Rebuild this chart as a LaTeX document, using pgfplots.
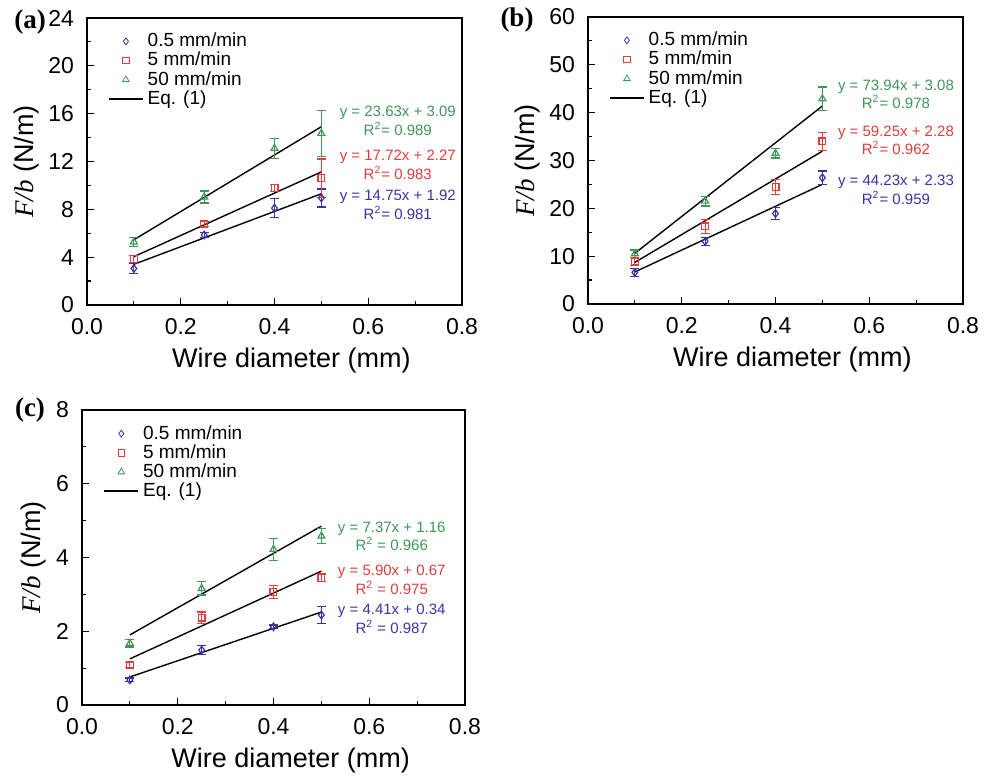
\documentclass[border=0pt]{standalone}
\usepackage{pgfplots}
\pgfplotsset{compat=1.18}
\usepackage{fontspec}
\setmainfont{Liberation Sans}
\newfontfamily\tnr{Liberation Serif}
\definecolor{cb}{RGB}{60,50,165}
\definecolor{cr}{RGB}{228,60,60}
\definecolor{cg}{RGB}{65,150,90}
\tikzset{eqn/.style={align=center, font=\fontsize{7.5}{8}\selectfont}}
\pgfplotsset{
  panel/.style={
    scale only axis, width=187.5pt, height=143.5pt,
    xmin=0, xmax=0.8, xtick={0,0.2,0.4,0.6,0.8}, minor x tick num=1, minor y tick num=1,
    xticklabel style={/pgf/number format/fixed, /pgf/number format/fixed zerofill, /pgf/number format/precision=1, yshift=-3pt},
    yticklabel style={xshift=-3pt},
    /pgf/number format/assume math mode=true,
    tick align=inside, xtick pos=left, ytick pos=left,
    major tick length=3.5pt, minor tick length=2pt,
    tick style={black, line width=0.6pt},
    axis line style={line width=0.7pt},
    tick label style={font=\fontsize{11.5}{13}\selectfont},
    label style={font=\fontsize{13.5}{15}\selectfont},
    xlabel={Wire diameter (mm)},
    ylabel={{\tnr\itshape F/b} (N/m)},
    xlabel style={at={(axis description cs:0.545,0)}, anchor=north, yshift=-18pt},
    ylabel style={yshift=-2pt},
    legend style={draw=none, fill=none, at={(0.05,0.97)}, anchor=north west,
      font=\fontsize{9.5}{10.5}\selectfont, row sep=-2.8pt, inner sep=1pt},
    legend cell align=left,
  },
  bl/.style={only marks, color=cb, mark=diamond, mark size=1.9pt, forget plot, mark options={line width=0.6pt},
    error bars/y dir=both, error bars/y explicit,
    error bars/error bar style={cb, line width=0.6pt},
    error bars/error mark options={rotate=90, mark size=2.3pt, cb, line width=0.6pt}},
  rd/.style={only marks, color=cr, mark=square, mark size=1.7pt, forget plot, mark options={line width=0.6pt},
    error bars/y dir=both, error bars/y explicit,
    error bars/error bar style={cr, line width=0.6pt},
    error bars/error mark options={rotate=90, mark size=2.3pt, cr, line width=0.6pt}},
  gr/.style={only marks, color=cg, mark=triangle, mark size=2.0pt, forget plot, mark options={line width=0.6pt},
    error bars/y dir=both, error bars/y explicit,
    error bars/error bar style={cg, line width=0.6pt},
    error bars/error mark options={rotate=90, mark size=2.3pt, cg, line width=0.6pt}},
  fitl/.style={black, line width=0.7pt, forget plot},
  lb/.style={only marks, color=cb, mark=diamond, mark size=1.7pt, mark options={draw=cb}},
  lr/.style={only marks, color=cr, mark=square, mark size=1.6pt, mark options={draw=cr}},
  lg/.style={only marks, color=cg, mark=triangle, mark size=1.9pt, mark options={draw=cg}},
}
\begin{document}
\begin{tikzpicture}
\path[use as bounding box] (0,0) rectangle (499pt,389.5pt);
% ---------------- (a)
\begin{axis}[panel, at={(43.5pt,237pt)}, anchor=south west,
  ymin=0, ymax=24, ytick={0,4,...,24}]
\addlegendimage{lb}\addlegendentry{0.5 mm/min}
\addlegendimage{lr}\addlegendentry{5 mm/min}
\addlegendimage{lg}\addlegendentry{50 mm/min}
\addlegendimage{black, line width=0.7pt}\addlegendentry{Eq. (1)}
\addplot[fitl] coordinates {(0.1,3.40) (0.5,9.30)};
\addplot[fitl] coordinates {(0.1,4.04) (0.5,11.13)};
\addplot[fitl] coordinates {(0.1,5.45) (0.5,14.91)};
\addplot[bl] coordinates {(0.1,3.05) +- (0,0.45) (0.25,5.85) +- (0,0.2) (0.4,8.1) +- (0,0.8) (0.5,8.95) +- (0,0.75)};
\addplot[rd] coordinates {(0.1,3.85) +- (0,0.3) (0.25,6.77) +- (0,0.2) (0.4,9.78) +- (0,0.3) (0.5,10.6) +- (0,1.6)};
\addplot[gr] coordinates {(0.1,5.27) +- (0,0.4) (0.25,9.03) +- (0,0.5) (0.4,13.1) +- (0,0.85) (0.5,14.35) +- (0,1.9)};
\node[eqn, cg] at (axis cs:0.663,15.4) {y = 23.63x + 3.09\\R\textsuperscript{2}= 0.989};
\node[eqn, cr] at (axis cs:0.663,11.7) {y = 17.72x + 2.27\\R\textsuperscript{2}= 0.983};
\node[eqn, cb] at (axis cs:0.663,8.36) {y = 14.75x + 1.92\\R\textsuperscript{2}= 0.981};
\end{axis}
% ---------------- (b)
\begin{axis}[panel, at={(294pt,237.5pt)}, anchor=south west,
  ymin=0, ymax=60, ytick={0,10,...,60}]
\addlegendimage{lb}\addlegendentry{0.5 mm/min}
\addlegendimage{lr}\addlegendentry{5 mm/min}
\addlegendimage{lg}\addlegendentry{50 mm/min}
\addlegendimage{black, line width=0.7pt}\addlegendentry{Eq. (1)}
\addplot[fitl] coordinates {(0.1,6.7) (0.5,25.0)};
\addplot[fitl] coordinates {(0.1,8.7) (0.5,31.95)};
\addplot[fitl] coordinates {(0.1,10.6) (0.5,41.4)};
\addplot[bl] coordinates {(0.1,6.6) +- (0,0.8) (0.25,13.1) +- (0,0.8) (0.4,18.9) +- (0,1.3) (0.5,26.4) +- (0,1.4)};
\addplot[rd] coordinates {(0.1,8.9) +- (0,0.8) (0.25,16.2) +- (0,1.4) (0.4,24.5) +- (0,1.6) (0.5,34.0) +- (0,1.9)};
\addplot[gr] coordinates {(0.1,10.5) +- (0,0.8) (0.25,21.5) +- (0,1.0) (0.4,31.5) +- (0,1.0) (0.5,42.9) +- (0,2.45)};
\node[eqn, cg] at (axis cs:0.657,43.8) {y = 73.94x + 3.08\\R\textsuperscript{2}= 0.978};
\node[eqn, cr] at (axis cs:0.657,34.2) {y = 59.25x + 2.28\\R\textsuperscript{2}= 0.962};
\node[eqn, cb] at (axis cs:0.657,23.9) {y = 44.23x + 2.33\\R\textsuperscript{2}= 0.959};
\end{axis}
% ---------------- (c)
\begin{axis}[panel, at={(41pt,37pt)}, anchor=south west, width=191.5pt, height=147.5pt,
  ymin=0, ymax=8, ytick={0,2,...,8}]
\addlegendimage{lb}\addlegendentry{0.5 mm/min}
\addlegendimage{lr}\addlegendentry{5 mm/min}
\addlegendimage{lg}\addlegendentry{50 mm/min}
\addlegendimage{black, line width=0.7pt}\addlegendentry{Eq. (1)}
\addplot[fitl] coordinates {(0.1,0.76) (0.5,2.52)};
\addplot[fitl] coordinates {(0.1,1.25) (0.5,3.63)};
\addplot[fitl] coordinates {(0.1,1.9) (0.5,4.85)};
\addplot[bl] coordinates {(0.1,0.68) +- (0,0.05) (0.25,1.49) +- (0,0.13) (0.4,2.12) +- (0,0.05) (0.5,2.44) +- (0,0.23)};
\addplot[rd] coordinates {(0.1,1.08) +- (0,0.07) (0.25,2.37) +- (0,0.15) (0.4,3.07) +- (0,0.18) (0.5,3.45) +- (0,0.1)};
\addplot[gr] coordinates {(0.1,1.67) +- (0,0.1) (0.25,3.16) +- (0,0.18) (0.4,4.22) +- (0,0.3) (0.5,4.58) +- (0,0.2)};
\node[eqn, cg] at (axis cs:0.647,4.57) {y = 7.37x + 1.16\\R\textsuperscript{2} = 0.966};
\node[eqn, cr] at (axis cs:0.647,3.39) {y = 5.90x + 0.67\\R\textsuperscript{2} = 0.975};
\node[eqn, cb] at (axis cs:0.647,2.33) {y = 4.41x + 0.34\\R\textsuperscript{2} = 0.987};
\end{axis}
\node[font=\tnr\bfseries\fontsize{13.5}{15}\selectfont] at (15pt,378.5pt) {(a)};
\node[font=\tnr\bfseries\fontsize{13.5}{15}\selectfont] at (258.5pt,379.5pt) {(b)};
\node[font=\tnr\bfseries\fontsize{13.5}{15}\selectfont] at (15pt,184.5pt) {(c)};
\end{tikzpicture}
\end{document}
